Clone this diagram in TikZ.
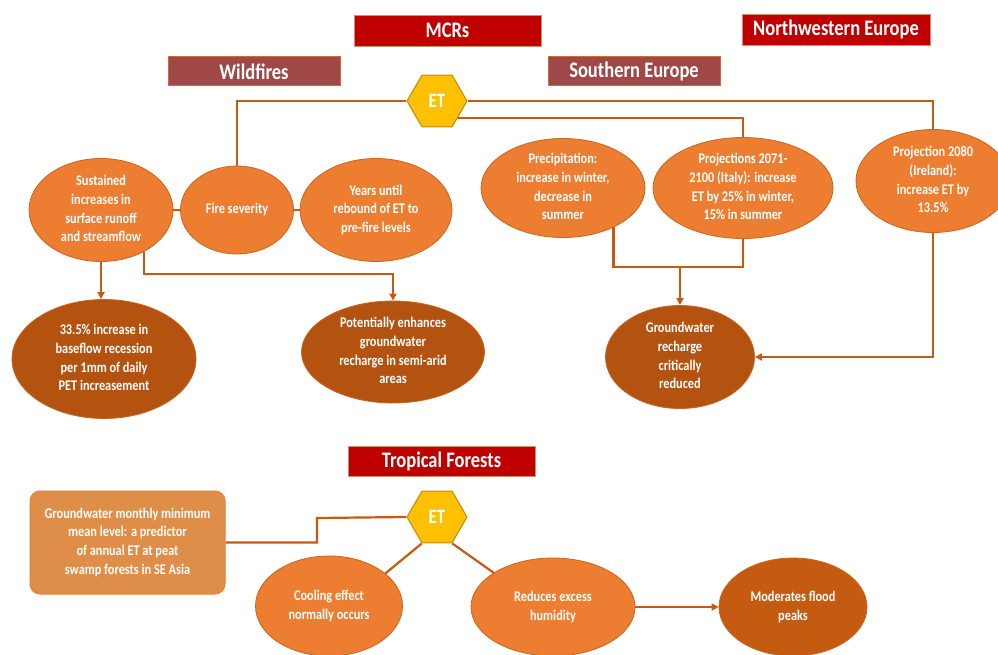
\documentclass[tikz,border=0pt]{standalone}
\usepackage{fontspec}
\usepackage{graphicx}
\setmainfont{Carlito}
\usetikzlibrary{shapes.geometric,arrows.meta}
\definecolor{ellc}{HTML}{ED7D31}
\definecolor{ellb}{HTML}{C8651E}
\definecolor{darkc}{HTML}{B45310}
\definecolor{modc}{HTML}{C55A11}
\definecolor{lnc}{HTML}{C55A11}
\definecolor{hexc}{HTML}{FFC000}
\definecolor{hexb}{HTML}{C08A10}
\definecolor{redc}{HTML}{C00000}
\definecolor{redb}{HTML}{D09070}
\definecolor{brownc}{HTML}{A04848}
\definecolor{brownb}{HTML}{D06A30}
\definecolor{boxc}{HTML}{DE8E48}
\definecolor{boxb}{HTML}{ED7D31}
\newcommand{\tx}[1]{\makebox[0pt]{\smash{\raisebox{-3.6pt}{\scalebox{1}[1.2]{\begin{tabular}{@{}c@{}}#1\end{tabular}}}}}}
\newcommand{\ttl}[1]{\scalebox{1}[1.2]{#1}}
\tikzset{
  ln/.style={draw=lnc, line width=2.2pt},
  arr/.style={ln, -{Triangle[length=7pt,width=7pt]}},
  ell/.style={ellipse, draw=ellb, line width=0.8pt, fill=ellc, inner sep=0pt, text=white, font=\fontsize{12.3}{15.5}\selectfont\bfseries},
  darkell/.style={ell, fill=darkc},
  modell/.style={ell, fill=modc},
  titlebox/.style={rectangle, inner sep=0pt, text=white, font=\fontsize{18.5}{20}\selectfont\bfseries},
  redbox/.style={titlebox, fill=redc, draw=redb, line width=0.8pt},
  brownbox/.style={titlebox, fill=brownc, draw=brownb, line width=1pt},
  hexa/.style={regular polygon, regular polygon sides=6, minimum size=60pt, inner sep=0pt, fill=hexc, draw=hexb, line width=1pt, text=white, font=\fontsize{17}{19}\selectfont\bfseries},
  gbox/.style={rectangle, rounded corners=10pt, fill=boxc, draw=boxb, line width=1pt, inner sep=0pt, text=white, font=\fontsize{12.3}{15.5}\selectfont\bfseries}
}
\begin{document}
\begin{tikzpicture}[x=1pt,y=-1pt]
\useasboundingbox (0,0) rectangle (998,655);
\fill[white] (0,0) rectangle (998,655);
\clip (0,0) rectangle (998,655);

% titles
\node[redbox, minimum width=187, minimum height=31] (mcr) at (447.5,30.5) {\ttl{MCRs}};
\node[redbox, minimum width=188, minimum height=31] (nwe) at (836,29.5) {\ttl{Northwestern Europe}};
\node[brownbox, minimum width=172, minimum height=29] (wf) at (254,71.5) {\ttl{Wildfires}};
\node[brownbox, minimum width=172, minimum height=29] (se) at (634,71.5) {\ttl{Southern Europe}};
\node[redbox, minimum width=187, minimum height=30] (tf) at (441.5,461) {\ttl{Tropical Forests}};

% hexagons
\node[hexa] (et1) at (437,101) {\ttl{ET}};
\node[hexa] (et2) at (437,517) {\ttl{ET}};

% top ellipses
\node[ell, minimum width=144, minimum height=103] (sus) at (101,210) {\tx{Sustained\\increases in\\surface runoff\\and streamflow}};
\node[ell, minimum width=113, minimum height=88] (fire) at (237,210) {\tx{Fire severity}};
\node[ell, minimum width=152, minimum height=103] (yrs) at (376,210) {\tx{Years until\\rebound of ET to\\pre-fire levels}};
\node[ell, minimum width=164, minimum height=99] (pre) at (563,188) {\tx{Precipitation:\\increase in winter,\\decrease in\\summer}};
\node[ell, minimum width=180, minimum height=101] (proj) at (743,188) {\tx{Projections 2071-\\2100 (Italy): increase\\ET by 25\% in winter,\\15\% in summer}};
\node[ell, minimum width=154, minimum height=103] (ire) at (933,181) {\tx{Projection 2080\\(Ireland):\\increase ET by\\13.5\%}};

% lower ellipses
\node[darkell, minimum width=184, minimum height=119] (b33) at (104,359) {\tx{33.5\% increase in\\baseflow recession\\per 1mm of daily\\PET increasement}};
\node[darkell, minimum width=183, minimum height=102] (pot) at (393,352) {\tx{Potentially enhances\\groundwater\\recharge in semi-arid\\areas}};
\node[darkell, minimum width=149, minimum height=103] (gw) at (680,357) {\tx{Groundwater\\recharge\\critically\\reduced}};

% bottom section
\node[gbox, minimum width=195, minimum height=103] (gwbox) at (127.5,542.5) {\tx{Groundwater monthly minimum\\mean level: a predictor\\of annual ET at peat\\swamp forests in SE Asia}};
\node[ell, minimum width=147, minimum height=100] (cool) at (329,606) {\tx{Cooling effect\\normally occurs}};
\node[ell, minimum width=164, minimum height=98] (redh) at (553,607) {\tx{Reduces excess\\humidity}};
\node[modell, minimum width=148, minimum height=98] (mod) at (793,607) {\tx{Moderates flood\\peaks}};

% connectors top
\draw[ln] (et1.west) -| (fire.north);
\draw[ln] (et1.east) -| (ire.north);
\draw[ln] (et1.-40) -| (proj.north);
\draw[ln] (sus.east) -- (fire.west);
\draw[ln] (fire.east) -- (yrs.west);
\draw[arr] (sus.south) -- (sus.south |- b33.north);
\coordinate (j1) at (393,274);
\draw[arr] (sus.-44) |- (j1) -- (pot.north);
\coordinate (j2) at (680,267);
\draw[ln] (pre.-38) |- (j2) -| (proj.south);
\draw[arr] (j2) -- (gw.north);
\draw[arr] (ire.south) |- (gw.east);

% connectors bottom
\coordinate (j3) at (317,518);
\draw[ln] (gwbox.east) -| (j3) -- (et2.west);
\draw[ln] (et2.240) -- (cool.30);
\draw[ln] (et2.300) -- (redh.150);
\draw[arr] (redh.east) -- (mod.west);
\end{tikzpicture}
\end{document}
